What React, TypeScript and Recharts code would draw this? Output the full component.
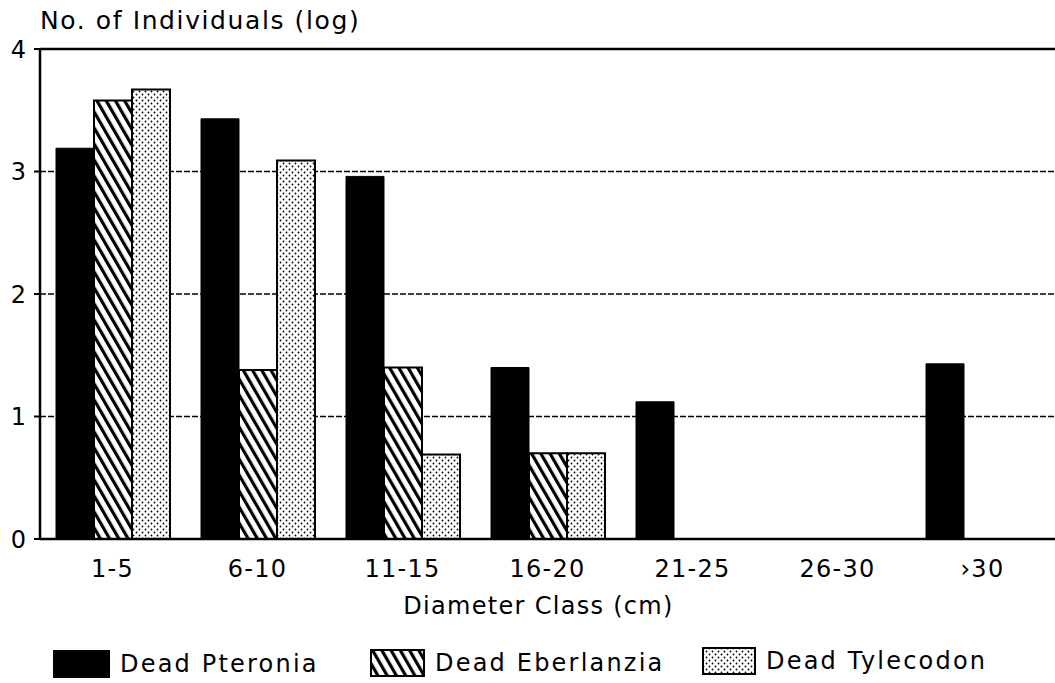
import { Bar, BarChart, CartesianGrid, Label, ReferenceLine, XAxis, YAxis } from 'recharts'

const diameterClasses = ['1-5', '6-10', '11-15', '16-20', '21-25', '26-30', '›30']
const deadPteronia = [3.19, 3.43, 2.96, 1.4, 1.12, 0, 1.43]
const deadEberlanzia = [3.58, 1.38, 1.4, 0.7, 0, 0, 0]
const deadTylecodon = [3.67, 3.09, 0.69, 0.7, 0, 0, 0]
const yTicks = [0, 1, 2, 3, 4]

const rows = diameterClasses.map((cls, i) => ({
  cls,
  pteronia: deadPteronia[i],
  eberlanzia: deadEberlanzia[i],
  tylecodon: deadTylecodon[i],
}))

const font = '"DejaVu Sans", "Liberation Sans", sans-serif'
const textStyle = { fontFamily: font, fontSize: 24, fill: '#000', letterSpacing: 1.3 }

function Patterns() {
  return (
    <svg width={0} height={0} style={{ position: 'absolute' }}>
      <defs>
        <pattern id="hatch" width={8} height={8} patternUnits="userSpaceOnUse" patternTransform="rotate(-30)">
          <rect width={8} height={8} fill="#fff" />
          <rect x={0} y={0} width={3.2} height={8} fill="#000" />
        </pattern>
        <pattern id="dots" width={6} height={6} patternUnits="userSpaceOnUse">
          <rect width={6} height={6} fill="#fff" />
          <circle cx={1.5} cy={1.5} r={0.9} fill="#000" />
          <circle cx={4.5} cy={4.5} r={0.9} fill="#000" />
        </pattern>
      </defs>
    </svg>
  )
}

function Swatch({ fill, w, h }: { fill: string; w: number; h: number }) {
  return (
    <svg width={w} height={h} style={{ display: 'block' }}>
      <rect x={1} y={1} width={w - 2} height={h - 2} fill={fill} stroke="#000" strokeWidth={2} />
    </svg>
  )
}

const legendItems = [
  { label: 'Dead Pteronia', fill: '#000', left: 53, swatchW: 57, top: 650 },
  { label: 'Dead Eberlanzia', fill: 'url(#hatch)', left: 370, swatchW: 55, top: 649 },
  { label: 'Dead Tylecodon', fill: 'url(#dots)', left: 702, swatchW: 54, top: 647 },
]

export default function App() {
  return (
    <div style={{ position: 'absolute', left: 0, top: 0, width: 1055, height: 683, background: '#fff', overflow: 'hidden' }}>
      <Patterns />
      <div
        style={{
          position: 'absolute',
          left: 40,
          top: 6,
          fontFamily: font,
          fontSize: 25,
          letterSpacing: 1.6,
          color: '#000',
          whiteSpace: 'nowrap',
        }}
      >
        No. of Individuals (log)
      </div>

      <BarChart
        width={1055}
        height={683}
        data={rows}
        margin={{ top: 49, right: 0, bottom: 0, left: 0 }}
        barCategoryGap={16}
        barGap={0}
      >
        <CartesianGrid
          vertical={false}
          stroke="#000"
          strokeWidth={1.4}
          strokeDasharray="6 2"
          horizontalValues={[1, 2, 3]}
        />
        <ReferenceLine y={4} stroke="#000" strokeWidth={2.5} />
        <XAxis
          dataKey="cls"
          axisLine={{ stroke: '#000', strokeWidth: 2.5 }}
          tickLine={false}
          tickMargin={15}
          tick={textStyle}
          interval={0}
          height={144}
        >
          <Label value="Diameter Class (cm)" position="insideTop" offset={58} dx={-9} style={textStyle} />
        </XAxis>
        <YAxis
          domain={[0, 4]}
          ticks={yTicks}
          width={40}
          axisLine={{ stroke: '#000', strokeWidth: 2.5 }}
          tickLine={{ stroke: '#000', strokeWidth: 2 }}
          tickSize={6}
          tickMargin={8}
          tick={{ ...textStyle, letterSpacing: 0 }}
          allowDataOverflow
        />
        <Bar dataKey="pteronia" fill="#000" stroke="#000" strokeWidth={1} isAnimationActive={false} />
        <Bar dataKey="eberlanzia" fill="url(#hatch)" stroke="#000" strokeWidth={2} isAnimationActive={false} />
        <Bar dataKey="tylecodon" fill="url(#dots)" stroke="#000" strokeWidth={2} isAnimationActive={false} />
      </BarChart>

      {legendItems.map((item) => (
        <div
          key={item.label}
          style={{ position: 'absolute', left: item.left, top: item.top, display: 'flex', alignItems: 'center', gap: 10 }}
        >
          <Swatch fill={item.fill} w={item.swatchW} h={28} />
          <span style={{ fontFamily: font, fontSize: 24, letterSpacing: 2.2, color: '#000', whiteSpace: 'nowrap' }}>
            {item.label}
          </span>
        </div>
      ))}
    </div>
  )
}
